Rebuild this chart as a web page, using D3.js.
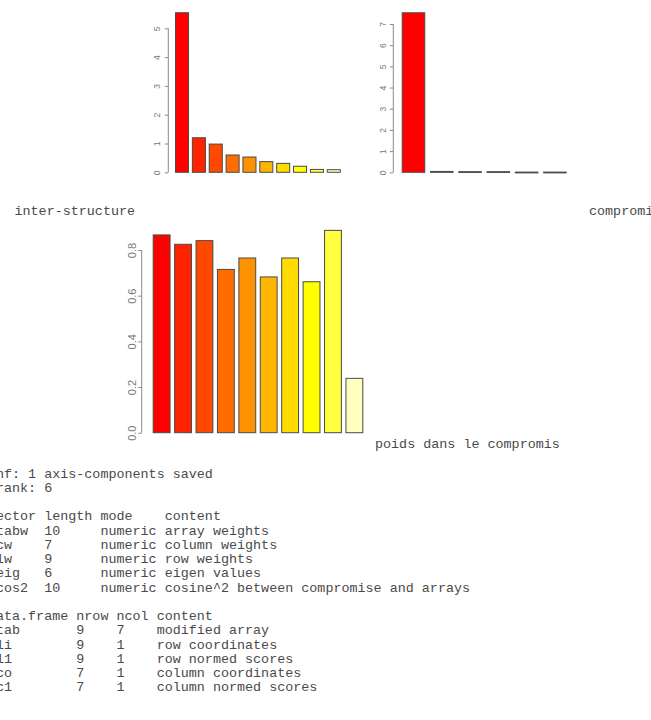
<!DOCTYPE html>
<html>
<head>
<meta charset="utf-8">
<script src="https://cdn.jsdelivr.net/npm/d3@7"></script>
<style>
  html, body { margin: 0; padding: 0; background: #fff; }
  svg { display: block; }
</style>
</head>
<body>
<div id="chart"></div>
<script>
// ---- data ----
const interEig = [5.54, 1.2, 0.98, 0.6, 0.53, 0.37, 0.31, 0.21, 0.1, 0.09];
const interTicks = [0, 1, 2, 3, 4, 5];
const compEig = [7.53, 0.04, 0.03, 0.03, 0.01, 0.01];
const compTicks = [0, 1, 2, 3, 4, 5, 6, 7];
const weights = [0.866, 0.825, 0.841, 0.715, 0.765, 0.682, 0.765, 0.661, 0.886, 0.238];
const weightTicks = [0, 0.2, 0.4, 0.6, 0.8];
const heat10 = ["#FF0000", "#FF2400", "#FF4900", "#FF6D00", "#FF9200", "#FFB600", "#FFDB00", "#FFFF00", "#FFFF40", "#FFFFBF"];
const heat6 = ["#FF0000", "#FF3300", "#FF6600", "#FF9900", "#FFCC00", "#FFFF80"];
const labelInter = "inter-structure";
const labelComp = "compromis";
const labelWeights = "poids dans le compromis";
const printCat = ["$nf: 1 axis-components saved", "$rank: 6"];
const printVec = [
  "  vector length mode    content",
  "1 $tabw  10     numeric array weights",
  "2 $cw    7      numeric column weights",
  "3 $lw    9      numeric row weights",
  "4 $eig   6      numeric eigen values",
  "5 $cos2  10     numeric cosine^2 between compromise and arrays"
];
const printDf = [
  "  data.frame nrow ncol content",
  "1 $tab       9    7    modified array",
  "2 $li        9    1    row coordinates",
  "3 $l1        9    1    row normed scores",
  "4 $co        7    1    column coordinates",
  "5 $c1        7    1    column normed scores"
];

const W = 651, H = 720;
const svg = d3.select("#chart").append("svg").attr("width", W).attr("height", H);
svg.append("rect").attr("width", W).attr("height", H).attr("fill", "#fff");

function barChart(cfg) {
  const x = d3.scaleBand().domain(d3.range(cfg.values.length))
    .range(cfg.xr).paddingInner(0.2 / 1.2).paddingOuter(0);
  const y = d3.scaleLinear().domain([0, cfg.ticks[cfg.ticks.length - 1]]).range(cfg.yr);
  const g = svg.append("g");
  g.selectAll("rect.bar").data(cfg.values).join("rect")
    .attr("class", "bar")
    .attr("x", (d, i) => x(i) + 0.5)
    .attr("width", x.bandwidth() - 1)
    .attr("y", d => y(d))
    .attr("height", d => Math.max(0.8, y(0) - y(d)))
    .attr("fill", (d, i) => cfg.colors[i])
    .attr("stroke", "#4a4a4a")
    .attr("stroke-width", 1);
  const axis = d3.axisLeft(y).tickValues(cfg.ticks).tickSize(cfg.tickLen).tickSizeOuter(0)
    .tickFormat(cfg.fmt);
  const ag = g.append("g").attr("transform", `translate(${cfg.axisX},0)`).call(axis);
  ag.select(".domain").remove();
  ag.append("line").attr("x1", 0).attr("x2", 0)
    .attr("y1", y(cfg.ticks[0])).attr("y2", y(cfg.ticks[cfg.ticks.length - 1]))
    .attr("stroke", "#8a8a8a");
  ag.selectAll(".tick line").attr("stroke", "#8a8a8a");
  ag.selectAll(".tick text")
    .attr("x", null).attr("dy", null)
    .attr("transform", `translate(${-cfg.labelOff},0) rotate(-90)`)
    .attr("text-anchor", "middle")
    .attr("dominant-baseline", "central")
    .attr("fill", "#777")
    .style("font-family", "'Liberation Sans', Arial, sans-serif")
    .style("font-size", cfg.fontSize + "px");
}

barChart({ values: interEig, ticks: interTicks, colors: heat10,
  xr: [175, 340.8], yr: [172.3, 28.3], axisX: 168.3, tickLen: 3.5, labelOff: 11.5,
  fontSize: 8.5, fmt: d3.format("d") });
barChart({ values: compEig, ticks: compTicks, colors: heat6,
  xr: [401.7, 566.7], yr: [172.3, 24], axisX: 393.3, tickLen: 3.5, labelOff: 10,
  fontSize: 8.5, fmt: d3.format("d") });
barChart({ values: weights, ticks: weightTicks, colors: heat10,
  xr: [152.7, 363.3], yr: [432.7, 250], axisX: 141.7, tickLen: 3.5, labelOff: 10,
  fontSize: 11, fmt: d3.format(".1f") });

// ---- console text ----
const mono = "'Liberation Mono', 'Courier New', monospace";
const fs = 13.4;
function txt(s, x, yc) {
  svg.append("text").attr("x", x).attr("y", yc + 4.2)
    .attr("fill", "#4a4a4a").style("font-family", mono).style("font-size", fs + "px")
    .attr("xml:space", "preserve").style("white-space", "pre").text(s);
}
txt(labelInter, 14.5, 211);
txt(labelComp, 589, 211);
txt(labelWeights, 375, 444);

const y0 = 473.5, lh = 14.25;
printCat.forEach((s, i) => txt(s, -12.1, y0 + i * lh));
printVec.forEach((s, i) => txt(s, -28.2, y0 + (3 + i) * lh));
printDf.forEach((s, i) => txt(s, -28.2, y0 + (10 + i) * lh));
</script>
</body>
</html>
